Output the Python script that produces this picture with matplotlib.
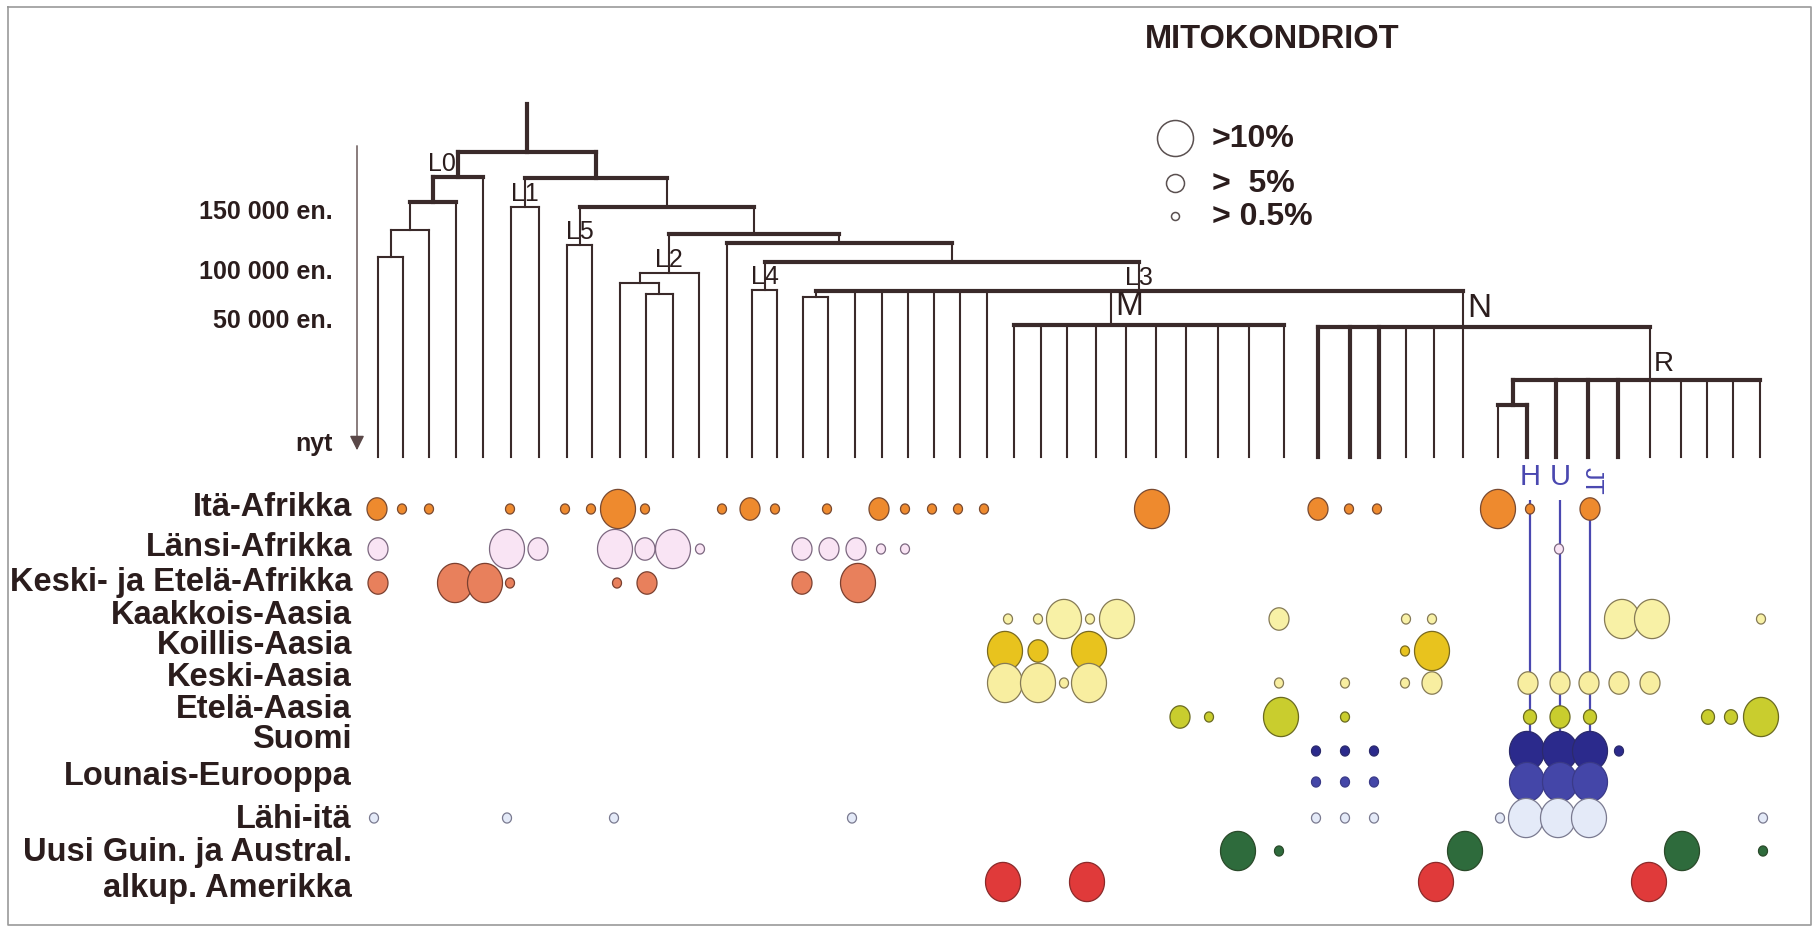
import matplotlib
matplotlib.use("Agg")
import matplotlib.pyplot as plt
import numpy as np
from matplotlib.path import Path
from matplotlib.markers import MarkerStyle

plt.rcParams['font.family'] = ['Liberation Sans', 'DejaVu Sans']

# ---- tree data -------------------------------------------------------------
# columns of the haplogroup leaves, left to right
leaf_x = [377.7, 403.3, 429.3, 456, 483.3, 511, 539, 566.7, 592.3, 620, 646, 672.7, 699,
          726.7, 751.7, 777.3, 802.7, 828.3, 855, 881.7, 907.7, 934.3, 960, 986.7,
          1014.3, 1041, 1067.3, 1095.7, 1126, 1155.7, 1185.7, 1217.7, 1249.3, 1284,
          1318.3, 1350, 1379.3, 1406, 1434.3, 1463.3,
          1498.3, 1526.7, 1556, 1588.3, 1618.3, 1650, 1681, 1706.7, 1733.3, 1760]
thick_leaves = [34, 35, 36, 41, 42, 43, 44]

# branch points: name -> (level on the time axis, children)
nodes = {
    'root': (152, ['L0', 'a1']),
    'L0': (177, ['a2', 4]),
    'a2': (202, ['a3', 3]),
    'a3': (230, ['a4', 2]),
    'a4': (257, [0, 1]),
    'a1': (178, ['L1', 'b1']),
    'L1': (207, [5, 6]),
    'b1': (207, ['L5', 'b2']),
    'L5': (245, [7, 8]),
    'b2': (234, ['L2', 'b3']),
    'L2': (273, ['c1', 12]),
    'c1': (283, [9, 'c2']),
    'c2': (294, [10, 11]),
    'b3': (243, [13, 'b4']),
    'b4': (262, ['L4', 'L3']),
    'L4': (290, [14, 15]),
    'L3': (291, ['d1', 18, 19, 20, 21, 22, 23, 'M', 'N']),
    'd1': (297, [16, 17]),
    'M': (325, [24, 25, 26, 27, 28, 29, 30, 31, 32, 33]),
    'N': (327, [34, 35, 36, 37, 38, 39, 'R']),
    'R': (380, ['e1', 42, 43, 44, 45, 46, 47, 48, 49]),
    'e1': (405, [40, 41]),
}
# nodes whose stem sits over given leaves instead of the middle of the clade
stem_leaves = {'M': (27, 28), 'N': (39,), 'R': (45,)}
thick_bars = ['root', 'L0', 'a2', 'a1', 'b1', 'b2', 'b3', 'b4', 'L3', 'M', 'N', 'R', 'e1']
thick_stems = ['L0', 'a2', 'a1', 'e1']
root_top = 104
tip_y = 457

time_ticks = [212, 272, 321, 444]
time_labels = ['150 000 en.', '100 000 en.', '50 000 en.', 'nyt']

# ---- frequency data: (column, size class 1..4) ---------------------------
regions = ['Itä-Afrikka', 'Länsi-Afrikka', 'Keski- ja Etelä-Afrikka', 'Kaakkois-Aasia',
           'Koillis-Aasia', 'Keski-Aasia', 'Etelä-Aasia', 'Suomi', 'Lounais-Eurooppa',
           'Lähi-itä', 'Uusi Guin. ja Austral.', 'alkup. Amerikka']
row_y = [509, 549, 583, 619, 651, 683, 717, 751, 782, 818, 851, 882]

itae_afrikka = [(377, 3), (402, 1), (429, 1), (510, 1), (565, 1), (591, 1), (618, 4), (645, 1),
                (722, 1), (750, 3), (775, 1), (827, 1), (879, 3), (905, 1), (932, 1), (958, 1),
                (984, 1), (1152, 4), (1318, 3), (1349, 1), (1377, 1), (1498, 4), (1530, 1),
                (1590, 3)]
laensi_afrikka = [(378, 3), (507, 4), (538, 3), (615, 4), (645, 3), (673, 4), (700, 1),
                  (802, 3), (829, 3), (856, 3), (881, 1), (905, 1), (1559, 1)]
keski_etelae_afrikka = [(378, 3), (455, 4), (485, 4), (510, 1), (617, 1), (647, 3), (802, 3),
                        (858, 4)]
kaakkois_aasia = [(1008, 1), (1038, 1), (1064, 4), (1090, 1), (1117, 4), (1279, 3), (1406, 1),
                  (1432, 1), (1622, 4), (1652, 4), (1761, 1)]
koillis_aasia = [(1005, 4), (1038, 3), (1089, 4), (1405, 1), (1432, 4)]
keski_aasia = [(1005, 4), (1038, 4), (1064, 1), (1089, 4), (1279, 1), (1345, 1), (1405, 1),
               (1432, 3), (1528, 3), (1560, 3), (1589, 3), (1619, 3), (1650, 3)]
etelae_aasia = [(1180, 3), (1209, 1), (1281, 4), (1345, 1), (1530, 2), (1560, 3), (1590, 2),
                (1708, 2), (1731, 2), (1761, 4)]
suomi = [(1316, 1), (1345, 1), (1374, 1), (1527, 4), (1560, 4), (1590, 4), (1619, 1)]
lounais_eurooppa = [(1316, 1), (1345, 1), (1374, 1), (1527, 4), (1560, 4), (1590, 4)]
laehi_itae = [(374, 1), (507, 1), (614, 1), (852, 1), (1316, 1), (1345, 1), (1374, 1),
              (1500, 1), (1526, 4), (1558, 4), (1589, 4), (1763, 1)]
uusi_guinea = [(1238, 4), (1279, 1), (1465, 4), (1682, 4), (1763, 1)]
amerikka = [(1003, 4), (1087, 4), (1436, 4), (1649, 4)]

rows = [itae_afrikka, laensi_afrikka, keski_etelae_afrikka, kaakkois_aasia, koillis_aasia,
        keski_aasia, etelae_aasia, suomi, lounais_eurooppa, laehi_itae, uusi_guinea, amerikka]

hut_x = [1530, 1560, 1590]
hut_names = ['H', 'U', 'JT']

legend_names = ['>10%', '>  5%', '> 0.5%']

# ---- styles ----------------------------------------------------------------
fills = ['#ee8a2e', '#f9e4f4', '#e8805c', '#f8f1a6', '#e8c31e', '#f8eea0', '#c9cd2e',
         '#2b2a8c', '#4446a8', '#e4eaf8', '#2e6b3c', '#e03a3a']
edges = ['#7a4a30', '#7c6880', '#7a4030', '#857a55', '#7a6a20', '#857a55', '#6a6a20',
         '#2b2a6c', '#3a3a88', '#7a7a90', '#2a4a2a', '#8a2a2a']
diam = {1: 9, 2: 13, 3: 20, 4: 35}
label_y = [508, 547, 583, 615, 645, 678, 710, 740, 777, 820, 853, 888]
line_c = '#3a2a2a'
text_c = '#2b1d1d'
blue = '#4a48b0'
THICK, THIN = 3.0, 1.5

fig = plt.figure(figsize=(18.18, 9.27), dpi=100)
ax = fig.add_axes([0, 0, 1, 1])
ax.set_xlim(0, 1818)
ax.set_ylim(927, 0)
ax.axis('off')

px2pt = 72 / fig.dpi


def node_x(n):
    if isinstance(n, int):
        return leaf_x[n]
    if n in stem_leaves:
        return np.mean([leaf_x[i] for i in stem_leaves[n]])
    xs = [node_x(c) for c in nodes[n][1]]
    return (min(xs) + max(xs)) / 2


def draw(n):
    y, kids = nodes[n]
    xs = [node_x(c) for c in kids]
    ax.plot([min(xs), max(xs)], [y, y], color=line_c,
            lw=THICK if n in thick_bars else THIN, solid_capstyle='projecting')
    for c, cx in zip(kids, xs):
        if isinstance(c, int):
            ax.plot([cx, cx], [y, tip_y], color=line_c,
                    lw=THICK if c in thick_leaves else THIN)
        else:
            ax.plot([cx, cx], [y, nodes[c][0]], color=line_c,
                    lw=THICK if c in thick_stems else THIN)
            draw(c)


rx = node_x('root')
ax.plot([rx, rx], [root_top, nodes['root'][0]], color=line_c, lw=THICK)
draw('root')

# clade names
for name in ['L0', 'L1', 'L2', 'L3', 'L4', 'L5']:
    x, y = node_x(name), nodes[name][0]
    if name == 'L0':
        ax.text(x - 2, y - 1, name, ha='right', va='bottom', fontsize=18, color=text_c)
    else:
        ax.text(x, y - 1, name, ha='center', va='bottom', fontsize=18, color=text_c)
for name, fs in [('M', 24), ('N', 24), ('R', 20)]:
    ax.text(node_x(name) + 4, nodes[name][0] - 3, name, ha='left', va='bottom',
            fontsize=fs, color=text_c)

# time arrow
ax.annotate('', xy=(357, 453), xytext=(357, 143),
            arrowprops=dict(arrowstyle='-|>', color='#5a4848', lw=1, mutation_scale=22))
for ty, tl in zip(time_ticks, time_labels):
    ax.text(333, ty, tl, ha='right', va='center', fontsize=18, fontweight='bold', color=text_c)

# HUT lines
ax.vlines(hut_x, 500, 740, color=blue, lw=1.6, zorder=2)
for hx, hn in zip(hut_x, hut_names):
    if hn == 'JT':
        ax.text(hx + 2, 481, hn, ha='center', va='center', fontsize=18, color=blue,
                rotation=-90)
    else:
        ax.text(hx, 477, hn, ha='center', va='center', fontsize=21, color=blue)

# bubbles, slightly taller than wide like in the printed figure
t = np.linspace(0, 2 * np.pi, 60)
ell = MarkerStyle(Path(np.column_stack([0.5 * np.cos(t), 0.56 * np.sin(t)]), closed=True))
for i, row in enumerate(rows):
    xs = [b[0] for b in row]
    ss = [(diam[b[1]] * 1.12 * px2pt) ** 2 for b in row]
    ax.scatter(xs, [row_y[i]] * len(row), s=ss, marker=ell, c=fills[i],
               edgecolors=edges[i], linewidths=0.9, zorder=3 + i * 0.01)

# region names
for ly, rn in zip(label_y, regions):
    ax.text(352, ly, rn, ha='right', va='center', fontsize=23.5, fontweight='bold',
            color=text_c)

# title and size legend
ax.text(1272, 39, 'MITOKONDRIOT', ha='center', va='center', fontsize=23.5,
        fontweight='bold', color=text_c)
for ly, ld, ln in zip([138, 183, 216], [36, 18, 8], legend_names):
    ax.scatter([1175], [ly], s=(ld * px2pt) ** 2, facecolors='white',
               edgecolors='#5a5050', linewidths=1.1, zorder=3)
    ax.text(1212, ly + 1, ln, ha='left', va='center', fontsize=23, fontweight='bold',
            color=text_c)

# frame of the printed figure
ax.plot([8, 1811, 1811, 8, 8], [7, 7, 925, 925, 7], color='#9a9a9a', lw=1.2)

fig.savefig('out.png', dpi=100)
